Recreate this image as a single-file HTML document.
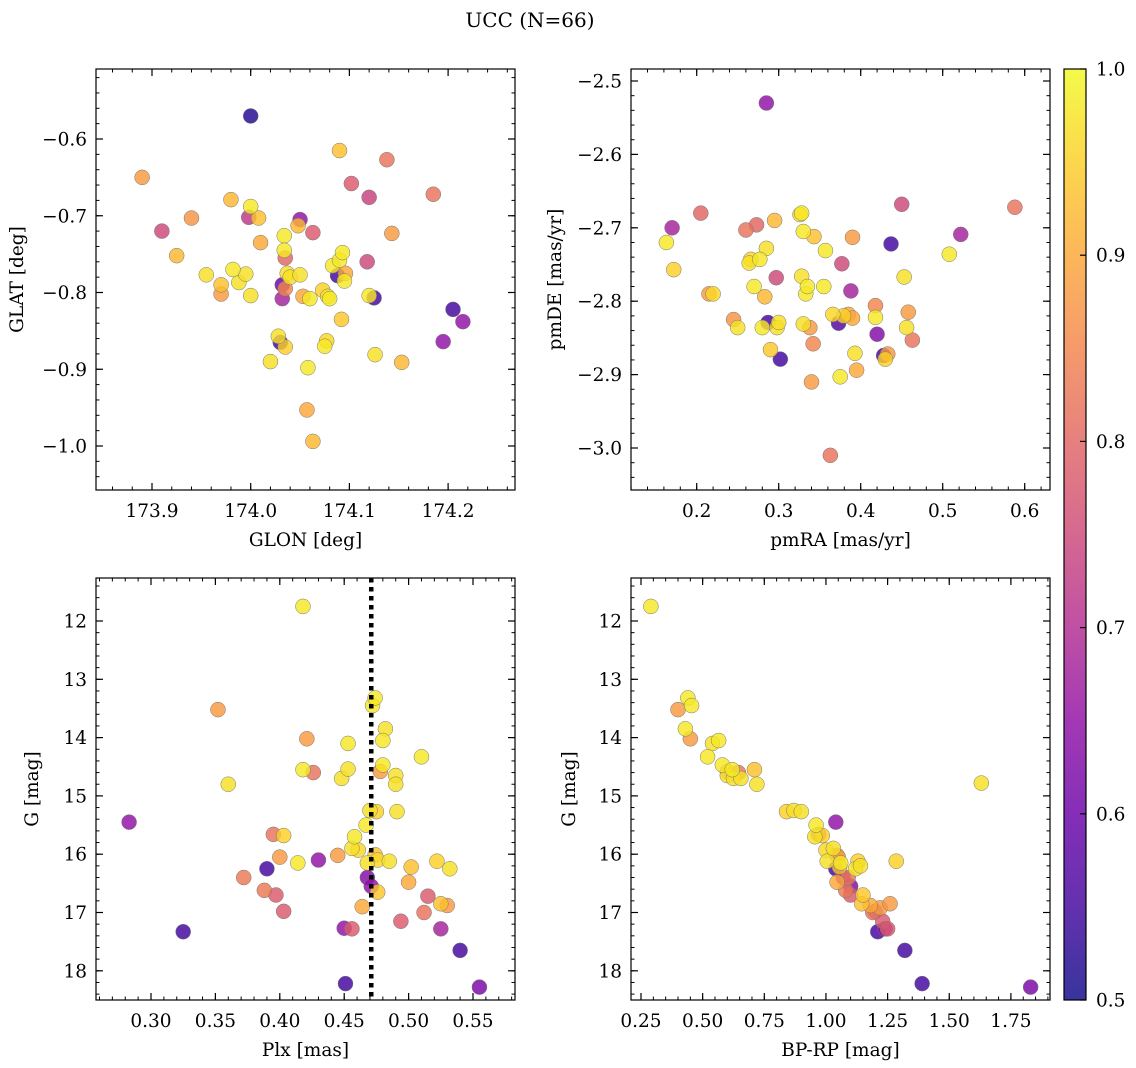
<!DOCTYPE html>
<html><head><meta charset="utf-8">
<style>
html,body{margin:0;padding:0;background:#fff;}
svg{display:block;font-family:"DejaVu Serif","Liberation Serif",serif;}
</style></head>
<body>
<svg id="fig" width="1136" height="1068" viewBox="0 0 1136 1068" xmlns="http://www.w3.org/2000/svg">
<text x="530" y="27" font-size="20" text-anchor="middle">UCC (N=66)</text>
</svg>
<script>
// Panel 1: GLON / GLAT
const p1x=[174.0,173.89,173.91,173.925,173.94,173.955,173.97,173.97,173.98,173.982,173.988,173.995,173.998,174.0,174.0,174.008,174.01,174.02,174.028,174.03,174.032,174.032,174.034,174.034,174.035,174.035,174.035,174.037,174.04,174.048,174.05,174.05,174.053,174.057,174.058,174.06,174.063,174.063,174.073,174.075,174.077,174.078,174.08,174.083,174.088,174.09,174.09,174.092,174.093,174.095,174.096,174.102,174.118,174.12,174.12,174.125,174.126,174.138,174.143,174.153,174.185,174.195,174.205,174.215];
const p1y=[-0.57,-0.65,-0.72,-0.752,-0.703,-0.777,-0.79,-0.802,-0.679,-0.77,-0.787,-0.776,-0.702,-0.688,-0.804,-0.703,-0.735,-0.89,-0.857,-0.865,-0.79,-0.808,-0.726,-0.745,-0.755,-0.795,-0.871,-0.775,-0.78,-0.713,-0.705,-0.777,-0.805,-0.953,-0.898,-0.808,-0.722,-0.994,-0.797,-0.87,-0.863,-0.805,-0.808,-0.765,-0.778,-0.758,-0.615,-0.835,-0.748,-0.785,-0.775,-0.658,-0.76,-0.676,-0.804,-0.807,-0.881,-0.627,-0.723,-0.891,-0.672,-0.864,-0.822,-0.838];
const p1c=[0.52,0.88,0.75,0.92,0.87,0.97,0.93,0.88,0.92,0.98,0.97,0.97,0.72,0.98,0.97,0.93,0.9,0.97,0.97,0.55,0.6,0.68,0.98,0.98,0.8,0.85,0.95,0.97,0.97,0.92,0.65,0.97,0.9,0.9,0.98,0.98,0.78,0.92,0.95,0.98,0.96,0.97,0.98,0.98,0.55,0.98,0.93,0.94,0.98,0.98,0.9,0.78,0.75,0.74,0.98,0.55,0.97,0.82,0.88,0.92,0.82,0.65,0.55,0.65];
// Panel 2: pmRA / pmDE
const p2x=[0.285,0.163,0.17,0.172,0.205,0.215,0.22,0.245,0.25,0.26,0.264,0.266,0.27,0.273,0.277,0.28,0.283,0.285,0.287,0.29,0.295,0.297,0.298,0.3,0.302,0.326,0.328,0.328,0.33,0.33,0.333,0.335,0.338,0.34,0.342,0.343,0.355,0.357,0.363,0.366,0.373,0.375,0.377,0.379,0.385,0.388,0.39,0.39,0.393,0.395,0.418,0.418,0.42,0.428,0.43,0.433,0.437,0.45,0.453,0.456,0.458,0.463,0.508,0.522,0.588];
const p2y=[-2.53,-2.72,-2.70,-2.757,-2.68,-2.79,-2.79,-2.825,-2.836,-2.703,-2.748,-2.743,-2.78,-2.696,-2.743,-2.836,-2.794,-2.728,-2.829,-2.866,-2.69,-2.768,-2.836,-2.829,-2.879,-2.682,-2.68,-2.766,-2.831,-2.705,-2.79,-2.78,-2.836,-2.91,-2.858,-2.712,-2.78,-2.731,-3.01,-2.818,-2.83,-2.903,-2.749,-2.82,-2.818,-2.786,-2.713,-2.823,-2.871,-2.894,-2.806,-2.822,-2.845,-2.874,-2.879,-2.872,-2.722,-2.668,-2.767,-2.836,-2.815,-2.853,-2.736,-2.709,-2.672];
const p2c=[0.65,0.98,0.68,0.95,0.8,0.88,0.96,0.87,0.97,0.82,0.97,0.96,0.98,0.8,0.98,0.98,0.92,0.97,0.55,0.94,0.92,0.75,0.97,0.97,0.55,0.96,0.98,0.97,0.97,0.98,0.98,0.98,0.88,0.88,0.85,0.93,0.98,0.98,0.82,0.96,0.57,0.98,0.75,0.95,0.9,0.68,0.88,0.9,0.97,0.9,0.85,0.98,0.63,0.55,0.95,0.88,0.55,0.75,0.97,0.97,0.88,0.82,0.98,0.68,0.82];
// Panel 3: Plx / G
const p3x=[0.418,0.352,0.36,0.283,0.325,0.372,0.39,0.388,0.395,0.397,0.4,0.403,0.403,0.414,0.418,0.421,0.426,0.43,0.445,0.448,0.45,0.451,0.453,0.453,0.456,0.456,0.458,0.461,0.464,0.467,0.468,0.468,0.47,0.471,0.472,0.474,0.474,0.475,0.476,0.476,0.478,0.48,0.48,0.482,0.485,0.49,0.49,0.491,0.494,0.5,0.502,0.51,0.512,0.515,0.522,0.525,0.525,0.53,0.532,0.54,0.555];
const p3y=[11.75,13.52,14.8,15.45,17.33,16.4,16.25,16.62,15.66,16.7,16.05,15.68,16.98,16.15,14.55,14.02,14.6,16.1,16.02,14.7,17.27,18.22,14.54,14.1,17.28,15.9,15.7,15.93,16.9,15.5,16.15,16.4,15.25,16.55,13.45,13.32,16.01,15.27,16.65,16.1,14.58,14.47,14.05,13.85,16.12,14.65,14.8,15.27,17.15,16.48,16.22,14.33,17.0,16.72,16.12,16.85,17.28,16.88,16.25,17.65,18.28];
const p3c=[0.98,0.88,0.97,0.65,0.55,0.83,0.55,0.83,0.82,0.78,0.88,0.95,0.78,0.98,0.98,0.88,0.82,0.65,0.88,0.97,0.65,0.55,0.97,0.98,0.78,0.97,0.98,0.96,0.9,0.98,0.97,0.63,0.97,0.65,0.98,0.98,0.93,0.95,0.94,0.96,0.88,0.98,0.98,0.97,0.97,0.97,0.97,0.97,0.78,0.9,0.93,0.98,0.82,0.78,0.95,0.93,0.68,0.88,0.97,0.55,0.62];
const plxLine=0.471;
// Panel 4: BP-RP / G
const p4x=[0.29,0.4,0.43,0.44,0.455,0.45,0.52,0.54,0.565,0.58,0.6,0.6,0.62,0.625,0.645,0.655,0.71,0.72,0.84,0.87,0.9,0.96,0.955,0.97,0.985,1.0,1.005,1.03,1.04,1.04,1.045,1.05,1.055,1.045,1.06,1.07,1.08,1.09,1.1,1.1,1.12,1.13,1.145,1.14,1.15,1.18,1.19,1.2,1.21,1.22,1.23,1.24,1.25,1.26,1.285,1.32,1.39,1.63,1.83];
const p4y=[11.75,13.52,13.85,13.32,13.45,14.02,14.33,14.1,14.05,14.47,14.58,14.65,14.55,14.7,14.6,14.7,14.55,14.8,15.27,15.25,15.27,15.5,15.7,15.66,15.68,15.93,16.12,15.9,15.45,16.25,16.02,16.05,16.22,16.48,16.15,16.4,16.62,16.4,16.7,16.55,16.25,16.12,16.85,16.2,16.7,16.88,17.0,16.98,17.33,16.92,17.15,17.28,17.28,16.85,16.12,17.65,18.22,14.78,18.28];
const p4c=[0.98,0.88,0.98,0.98,0.98,0.88,0.98,0.97,0.98,0.98,0.88,0.97,0.98,0.97,0.82,0.97,0.93,0.97,0.95,0.97,0.97,0.98,0.97,0.82,0.95,0.96,0.97,0.97,0.65,0.55,0.88,0.88,0.93,0.9,0.98,0.65,0.83,0.83,0.78,0.63,0.97,0.95,0.93,0.97,0.94,0.9,0.82,0.78,0.55,0.88,0.78,0.65,0.78,0.88,0.95,0.55,0.55,0.97,0.62];
const cbTicks=[0.5,0.6,0.7,0.8,0.9,1.0];

const NS='http://www.w3.org/2000/svg';
const svg=document.getElementById('fig');
function mk(tag,attrs,parent){const e=document.createElementNS(NS,tag);for(const k in attrs)e.setAttribute(k,attrs[k]);(parent||svg).appendChild(e);return e;}
const stops=['#0d0887','#41049d','#6a00a8','#8f0da4','#b12a90','#cc4778','#e16462','#f2844b','#fca636','#fcce25','#f0f921'];
function hex(h){return [1,3,5].map(i=>parseInt(h.substr(i,2),16));}
function plasma(t){t=Math.max(0,Math.min(1,t));const f=t*10,i=Math.min(9,Math.floor(f)),r=f-i;const a=hex(stops[i]),b=hex(stops[i+1]);return 'rgb('+a.map((v,k)=>Math.round(v+(b[k]-v)*r)).join(',')+')';}
function cmap(c){return plasma((c-0.5)/0.5);}
const FS=18.5;
function axis(name,box,xr,yr,xmaj,xmin,ymaj,ymin,xdec,ydec,xlabel,ylabel,ylx){
  const [L,T,R,B]=box;
  const g=mk('g',{});
  
  
  const sx=v=>L+(v-xr[0])/(xr[1]-xr[0])*(R-L);
  const sy=v=>T+(v-yr[0])/(yr[1]-yr[0])*(B-T);
  const eps=1e-9;
  const ticks=(lo,hi,st)=>{const a=[];for(let v=Math.ceil((lo-eps)/st)*st;v<=hi+eps;v+=st)a.push(+v.toFixed(6));return a;};
  const xlo=Math.min(...xr),xhi=Math.max(...xr),ylo=Math.min(...yr),yhi=Math.max(...yr);
  ticks(xlo,xhi,xmin).forEach(v=>{const x=sx(v);mk('line',{x1:x,x2:x,y1:B,y2:B-3.5,stroke:'#000','stroke-width':1},g);mk('line',{x1:x,x2:x,y1:T,y2:T+3.5,stroke:'#000','stroke-width':1},g);});
  ticks(ylo,yhi,ymin).forEach(v=>{const y=sy(v);mk('line',{x1:L,x2:L+3.5,y1:y,y2:y,stroke:'#000','stroke-width':1},g);mk('line',{x1:R,x2:R-3.5,y1:y,y2:y,stroke:'#000','stroke-width':1},g);});
  ticks(xlo,xhi,xmaj).forEach(v=>{const x=sx(v);mk('line',{x1:x,x2:x,y1:B,y2:B-7,stroke:'#000','stroke-width':1.2},g);mk('line',{x1:x,x2:x,y1:T,y2:T+7,stroke:'#000','stroke-width':1.2},g);
    const t=mk('text',{x:x,y:B+27,'font-size':FS,'text-anchor':'middle'},g);t.textContent=v.toFixed(xdec);
    
    });
  ticks(ylo,yhi,ymaj).forEach(v=>{const y=sy(v);mk('line',{x1:L,x2:L+7,y1:y,y2:y,stroke:'#000','stroke-width':1.2},g);mk('line',{x1:R,x2:R-7,y1:y,y2:y,stroke:'#000','stroke-width':1.2},g);
    const t=mk('text',{x:L-9,y:y+6.5,'font-size':FS,'text-anchor':'end'},g);t.textContent=(v<0?'\u2212'+Math.abs(v).toFixed(ydec):v.toFixed(ydec));
    
    });
  mk('rect',{x:L,y:T,width:R-L,height:B-T,fill:'none',stroke:'#000','stroke-width':1.2},g);
  const xl=mk('text',{x:(L+R)/2,y:B+56,'font-size':FS,'text-anchor':'middle'},g);xl.textContent=xlabel;
  
  
  const yc=(T+B)/2, yx=ylx;
  const yl=mk('text',{x:yx,y:yc,'font-size':FS,'text-anchor':'middle',transform:`rotate(-90 ${yx} ${yc})`},g);yl.textContent=ylabel;
  
  
  return {sx,sy,g,box};
}
function scatter(ax,xs,ys,cs){
  const g=mk('g',{},ax.g);
  
  
  const idx=xs.map((_,i)=>i).sort((a,b)=>cs[a]-cs[b]);
  idx.forEach(i=>{const c=mk('circle',{cx:ax.sx(xs[i]),cy:ax.sy(ys[i]),r:7.5,fill:cmap(cs[i]),'fill-opacity':0.82,stroke:'#777','stroke-width':0.5},g);
    
    });
}
// Panel 1
const a1=axis('panel-glon-glat',[96,69,515,490],[173.9-56/987,173.9+(515-152)/987],[-0.6+(139-69)/767.5,-0.6-(490-139)/767.5],0.1,0.02,0.1,0.02,1,1,'GLON [deg]','GLAT [deg]',23);
scatter(a1,p1x,p1y,p1c);
// Panel 2
const a2=axis('panel-pmra-pmde',[631,69,1050,490],[0.2-(696.7-631)/820,0.2+(1050-696.7)/820],[-2.5+(81-69)/734,-2.5-(490-81)/734],0.1,0.02,0.1,0.02,1,1,'pmRA [mas/yr]','pmDE [mas/yr]',561);
scatter(a2,p2x,p2y,p2c);
// Panel 3
const a3=axis('panel-bottom-plx-g',[96,578,515,1000],[0.30-(151-96)/1288,0.30+(515-151)/1288],[12-(621-578)/58.3,12+(1000-621)/58.3],0.05,0.01,1,0.2,2,0,'Plx [mas]','G [mag]',38);
scatter(a3,p3x,p3y,p3c);
const vl=mk('line',{x1:a3.sx(plxLine),x2:a3.sx(plxLine),y1:578,y2:1000,stroke:'#000','stroke-width':4.5,'stroke-dasharray':'4.5 4.5'},a3.g);


// Panel 4
const a4=axis('panel-bottom-bprp-g',[631,578,1050,1000],[0.25-(641-631)/246.6,0.25+(1050-641)/246.6],[12-(621-578)/58.3,12+(1000-621)/58.3],0.25,0.05,1,0.2,2,0,'BP-RP [mag]','G [mag]',575);
scatter(a4,p4x,p4y,p4c);
// Colorbar
const cb=mk('g',{});


const defs=mk('defs',{},cb);
const lg=mk('linearGradient',{id:'pg',x1:0,y1:1,x2:0,y2:0},defs);
stops.forEach((s,i)=>{mk('stop',{offset:(i/10),'stop-color':s,'stop-opacity':0.82},lg);});
const CT=69,CB=1000,CL=1064,CR=1086;
mk('rect',{x:CL,y:CT,width:CR-CL,height:CB-CT,fill:'url(#pg)',stroke:'#000','stroke-width':1.2},cb);
cbTicks.forEach(v=>{const y=CB-(v-0.5)/0.5*(CB-CT);
  mk('line',{x1:CR,x2:CR-6,y1:y,y2:y,stroke:'#000','stroke-width':1.2},cb);
  const t=mk('text',{x:CR+10,y:y+6.5,'font-size':FS},cb);t.textContent=v.toFixed(1);
  
  });
</script>
</body></html>
